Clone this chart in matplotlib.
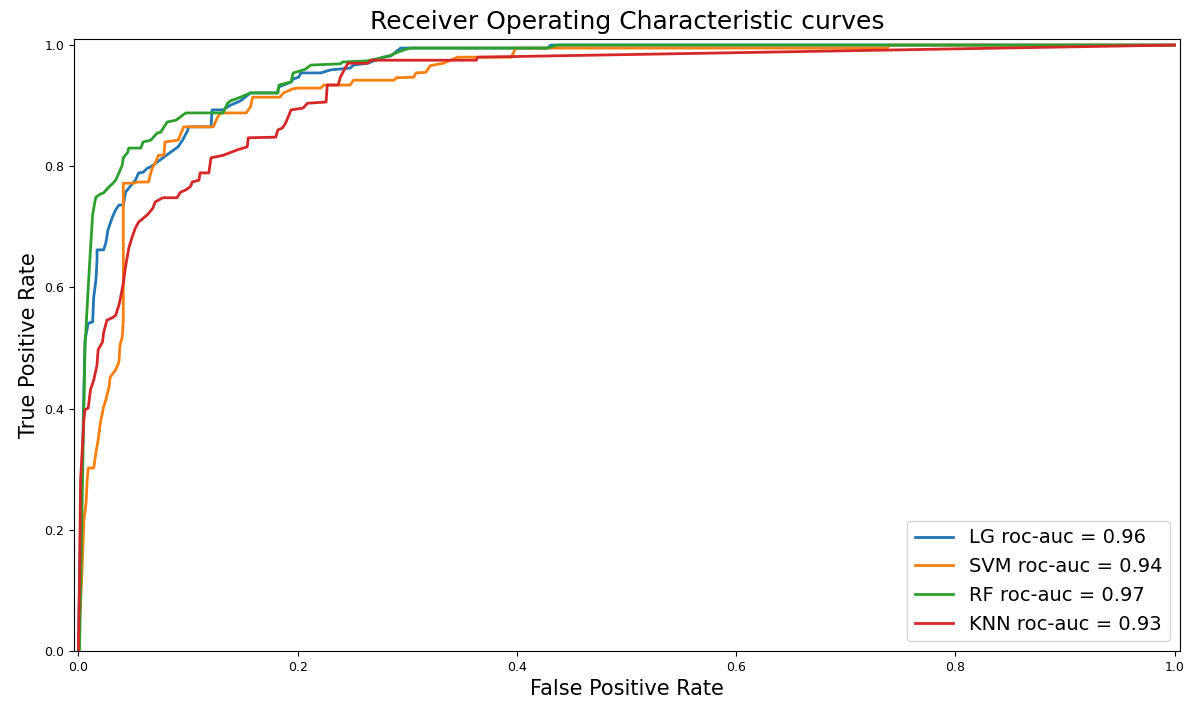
import matplotlib
matplotlib.use("Agg")
import matplotlib.pyplot as plt

# ---- data ----
lg_fpr = [0, 0.002, 0.004, 0.006, 0.009, 0.013, 0.014, 0.016, 0.017, 0.017, 0.023, 0.025, 0.027, 0.031,
          0.034, 0.037, 0.041, 0.043, 0.046, 0.052, 0.055, 0.059, 0.063, 0.066, 0.072, 0.078, 0.084, 0.091,
          0.095, 0.100, 0.100, 0.121, 0.122, 0.132, 0.136, 0.139, 0.148, 0.157, 0.182, 0.182, 0.183, 0.194,
          0.196, 0.201, 0.203, 0.221, 0.230, 0.248, 0.251, 0.264, 0.278, 0.285, 0.294, 0.428, 0.431, 1.0]
lg_tpr = [0, 0.216, 0.343, 0.513, 0.541, 0.543, 0.584, 0.612, 0.645, 0.662, 0.662, 0.673, 0.695, 0.716,
          0.728, 0.736, 0.736, 0.757, 0.764, 0.777, 0.789, 0.790, 0.797, 0.799, 0.807, 0.815, 0.823, 0.832,
          0.843, 0.860, 0.865, 0.865, 0.893, 0.893, 0.898, 0.901, 0.908, 0.921, 0.921, 0.926, 0.931, 0.939,
          0.944, 0.947, 0.954, 0.954, 0.959, 0.962, 0.967, 0.970, 0.980, 0.982, 0.995, 0.995, 1.0, 1.0]

svm_fpr = [0, 0.002, 0.003, 0.005, 0.007, 0.008, 0.009, 0.014, 0.016, 0.018, 0.020, 0.023, 0.025, 0.028,
           0.029, 0.034, 0.037, 0.038, 0.040, 0.041, 0.041, 0.050, 0.054, 0.064, 0.066, 0.068, 0.070, 0.073,
           0.078, 0.079, 0.091, 0.096, 0.123, 0.127, 0.130, 0.153, 0.157, 0.159, 0.184, 0.187, 0.196, 0.200,
           0.221, 0.224, 0.248, 0.251, 0.288, 0.290, 0.306, 0.308, 0.317, 0.321, 0.333, 0.346, 0.395, 0.399,
           0.738, 0.740, 1.0]
svm_tpr = [0, 0.083, 0.117, 0.216, 0.244, 0.282, 0.302, 0.302, 0.327, 0.348, 0.376, 0.403, 0.414, 0.436,
           0.452, 0.464, 0.477, 0.505, 0.518, 0.546, 0.772, 0.772, 0.774, 0.774, 0.789, 0.799, 0.805, 0.818,
           0.818, 0.840, 0.843, 0.865, 0.865, 0.881, 0.888, 0.888, 0.898, 0.914, 0.914, 0.921, 0.928, 0.929,
           0.929, 0.934, 0.934, 0.942, 0.942, 0.946, 0.947, 0.954, 0.955, 0.966, 0.970, 0.980, 0.980, 0.995,
           0.995, 1.0, 1.0]

rf_fpr = [0, 0.001, 0.005, 0.006, 0.009, 0.011, 0.013, 0.015, 0.016, 0.020, 0.023, 0.026, 0.028, 0.031,
          0.034, 0.037, 0.040, 0.041, 0.045, 0.046, 0.057, 0.059, 0.066, 0.072, 0.075, 0.081, 0.089, 0.098,
          0.132, 0.136, 0.139, 0.148, 0.157, 0.182, 0.183, 0.194, 0.196, 0.207, 0.212, 0.239, 0.241, 0.264,
          0.279, 0.285, 0.291, 0.297, 0.303, 0.428, 0.437, 1.0]
rf_tpr = [0, 0, 0.401, 0.500, 0.601, 0.662, 0.720, 0.741, 0.749, 0.754, 0.756, 0.762, 0.766, 0.771,
          0.777, 0.789, 0.802, 0.814, 0.823, 0.830, 0.830, 0.840, 0.843, 0.855, 0.856, 0.873, 0.876, 0.888,
          0.888, 0.904, 0.908, 0.914, 0.921, 0.921, 0.934, 0.939, 0.954, 0.960, 0.967, 0.969, 0.972, 0.974,
          0.980, 0.983, 0.988, 0.992, 0.995, 0.995, 1.0, 1.0]

knn_fpr = [0, 0.001, 0.002, 0.004, 0.005, 0.006, 0.009, 0.011, 0.014, 0.017, 0.018, 0.022, 0.023, 0.026,
           0.031, 0.034, 0.037, 0.038, 0.041, 0.043, 0.046, 0.049, 0.052, 0.055, 0.063, 0.068, 0.070, 0.077,
           0.090, 0.093, 0.098, 0.102, 0.104, 0.110, 0.111, 0.119, 0.121, 0.132, 0.145, 0.154, 0.155, 0.180,
           0.182, 0.186, 0.189, 0.194, 0.205, 0.209, 0.226, 0.227, 0.237, 0.239, 0.244, 0.246, 0.264, 0.267,
           0.363, 0.364, 1.0]
knn_tpr = [0, 0.117, 0.282, 0.348, 0.381, 0.398, 0.401, 0.431, 0.447, 0.472, 0.497, 0.510, 0.525, 0.546,
           0.550, 0.554, 0.571, 0.579, 0.607, 0.634, 0.665, 0.683, 0.698, 0.708, 0.720, 0.731, 0.741, 0.748,
           0.748, 0.757, 0.761, 0.766, 0.774, 0.777, 0.789, 0.789, 0.814, 0.818, 0.827, 0.832, 0.847, 0.848,
           0.860, 0.863, 0.871, 0.893, 0.896, 0.904, 0.906, 0.934, 0.934, 0.947, 0.964, 0.970, 0.970, 0.975,
           0.975, 0.980, 1.0]

labels = ["LG roc-auc = 0.96", "SVM roc-auc = 0.94", "RF roc-auc = 0.97", "KNN roc-auc = 0.93"]
colors = ["#1f77b4", "#ff7f0e", "#2ca02c", "#d62728"]

# ---- figure ----
fig = plt.figure(figsize=(11.88, 7.01), dpi=100)
ax = fig.add_axes([74 / 1188, 1 - 651 / 701, (1180 - 74) / 1188, (651 - 39) / 701])

series = [(lg_fpr, lg_tpr), (svm_fpr, svm_tpr), (rf_fpr, rf_tpr), (knn_fpr, knn_tpr)]
for (fx, ty), lab, c in zip(series, labels, colors):
    ax.plot(fx, ty, color=c, lw=2, label=lab)

ax.set_xlim(-0.004, 1.005)
ax.set_ylim(0, 1.01)
ax.set_xticks([0, 0.2, 0.4, 0.6, 0.8, 1.0])
ax.set_yticks([0, 0.2, 0.4, 0.6, 0.8, 1.0])
ax.tick_params(labelsize=9)
ax.set_title("Receiver Operating Characteristic curves", fontsize=18, pad=7)
ax.set_xlabel("False Positive Rate", fontsize=15)
ax.set_ylabel("True Positive Rate", fontsize=15)
ax.legend(loc="lower right", fontsize=14)

fig.savefig("out.png", dpi=100)
